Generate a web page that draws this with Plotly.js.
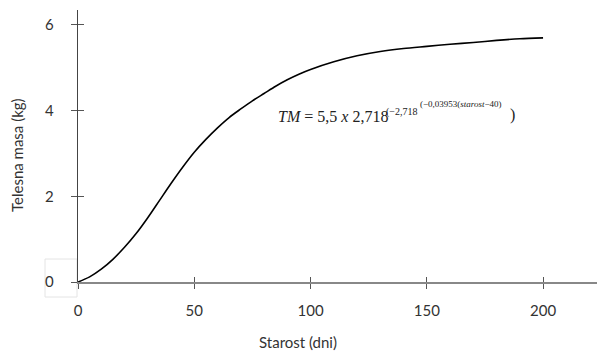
<!DOCTYPE html>
<html><head><meta charset="utf-8">
<script src="https://cdn.plot.ly/plotly-3.0.1.min.js"></script>
<style>html,body{margin:0;padding:0;background:#fff}#c{width:597px;height:353px}</style>
</head><body><div id="c"></div>
<script>
var starost = [0, 5, 10, 15, 20, 25, 30, 35, 40, 45, 50, 55, 60, 65, 70, 75, 80, 85, 90, 95, 100, 110, 120, 130, 140, 150, 160, 170, 180, 190, 200];
var masa = [0, 0.12, 0.30, 0.53, 0.81, 1.13, 1.50, 1.90, 2.30, 2.68, 3.03, 3.33, 3.60, 3.84, 4.04, 4.23, 4.40, 4.57, 4.72, 4.85, 4.96, 5.14, 5.28, 5.38, 5.45, 5.50, 5.55, 5.59, 5.64, 5.68, 5.70];
var xTicks = [0, 50, 100, 150, 200];
var yTicks = [0, 2, 4, 6];
var xTitle = 'Starost (dni)';
var yTitle = 'Telesna masa (kg)';

var font = 'Lato, "Noto Sans", sans-serif';
var serif = '"Liberation Serif", "DejaVu Serif", serif';
var pxX = function(px){ return (px - 78) / 2.325; };
var pxY = function(py){ return (282 - py) / 42.83; };

var traces = [{
  x: starost, y: masa, type: 'scatter', mode: 'lines',
  line: {color: '#000', width: 1.6, shape: 'spline', smoothing: 0.8},
  hoverinfo: 'skip', showlegend: false
}];

var layout = {
  width: 597, height: 353,
  margin: {l: 78, r: 0, t: 10, b: 71},
  paper_bgcolor: '#fff', plot_bgcolor: '#fff',
  showlegend: false,
  xaxis: {
    range: [0, 223.2], tickvals: xTicks, ticks: 'outside', ticklen: 5, tickcolor: '#555', tickwidth: 1,
    showline: true, linecolor: '#888', linewidth: 1.5, showgrid: false, zeroline: false,
    ticklabelstandoff: 9,
    tickfont: {family: font, size: 15, color: '#333'}, fixedrange: true
  },
  xaxis2: {
    range: [0, 223.2], tickvals: xTicks, ticks: 'inside', ticklen: 5, tickcolor: '#555', tickwidth: 1,
    overlaying: 'x', showticklabels: false, showline: false, showgrid: false, zeroline: false
  },
  yaxis: {
    range: [0, 6.35], tickvals: yTicks, ticks: 'outside', ticklen: 6, tickcolor: '#555', tickwidth: 1,
    showline: true, linecolor: '#444', linewidth: 1.2, showgrid: false, zeroline: false,
    ticklabelstandoff: 14,
    tickfont: {family: font, size: 15, color: '#333'}, fixedrange: true
  },
  yaxis2: {
    range: [0, 6.35], tickvals: yTicks, ticks: 'inside', ticklen: 6, tickcolor: '#555', tickwidth: 1,
    overlaying: 'y', showticklabels: false, showline: false, showgrid: false, zeroline: false
  },
  annotations: [
    {xref: 'paper', yref: 'paper', x: (298 - 78) / 519, y: (282 - 342) / 272, text: xTitle,
     showarrow: false, font: {family: font, size: 15, color: '#333'}, xanchor: 'center', yanchor: 'middle'},
    {xref: 'paper', yref: 'paper', x: (17 - 78) / 519, y: (282 - 155) / 272, text: yTitle, textangle: -90,
     showarrow: false, font: {family: font, size: 15, color: '#333'}, xanchor: 'center', yanchor: 'middle'},
    {x: pxX(277), y: pxY(117), text: '<i>TM</i> = 5,5 <i>x</i> 2,718', showarrow: false, borderpad: 0,
     xanchor: 'left', yanchor: 'middle', font: {family: serif, size: 16, color: '#222'}},
    {x: pxX(385), y: pxY(112), text: '(−2,718', showarrow: false, borderpad: 0,
     xanchor: 'left', yanchor: 'middle', font: {family: serif, size: 10, color: '#222'}},
    {x: pxX(419), y: pxY(104), text: '(−0,03953(<i>starost</i>−40)', showarrow: false, borderpad: 0,
     xanchor: 'left', yanchor: 'middle', font: {family: serif, size: 9, color: '#222'}},
    {x: pxX(509), y: pxY(115), text: ')', showarrow: false, borderpad: 0,
     xanchor: 'left', yanchor: 'middle', font: {family: serif, size: 16, color: '#222'}}
  ],
  shapes: [
    {type: 'path', xref: 'paper', yref: 'paper', layer: 'below',
     path: (function(){
       var L=(45-78)/519, R=(77-78)/519, T=(282-259)/272, B=(282-297)/272;
       return 'M'+L+','+T+' L'+R+','+T+' L'+R+','+B+' L'+L+','+B+' Z';
     })(),
     line: {color: '#e4e4e4', width: 1}}
  ]
};
traces.push({x: [0], y: [0], xaxis: 'x2', yaxis: 'y2', mode: 'markers', marker: {opacity: 0}, hoverinfo: 'skip', showlegend: false});
Plotly.newPlot('c', traces, layout, {displayModeBar: false, staticPlot: true});
</script></body></html>
